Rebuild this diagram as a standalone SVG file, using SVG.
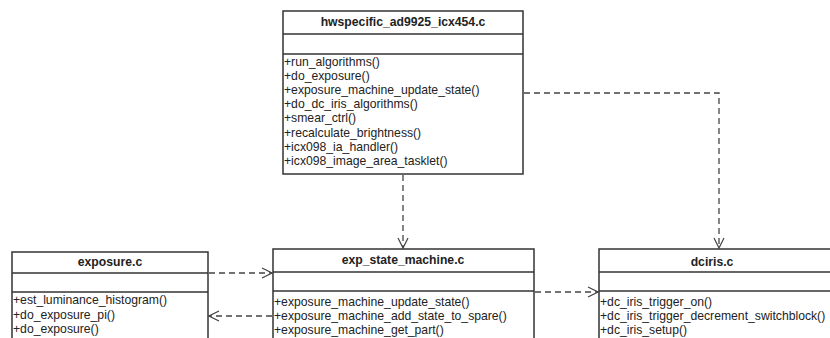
<svg xmlns="http://www.w3.org/2000/svg" width="830" height="338" viewBox="0 0 830 338">
<defs>
<style>
.box{fill:#fff;stroke:#333;stroke-width:1.5}
.sep{stroke:#333;stroke-width:1.5}
.t{font-family:"Liberation Sans",Arial,sans-serif;font-size:12.2px;fill:#222}
.h{font-family:"Liberation Sans",Arial,sans-serif;font-size:12.2px;font-weight:bold;fill:#222;text-anchor:middle}
.c{fill:none;stroke:#444;stroke-width:1.3;stroke-dasharray:6,4}
</style>
<marker id="ah" viewBox="0 0 12 12" refX="11" refY="6" markerWidth="12" markerHeight="12" markerUnits="userSpaceOnUse" orient="auto">
<path d="M1,1 L11,6 L1,11" fill="none" stroke="#444" stroke-width="1.2"/>
</marker>
</defs>
<rect width="830" height="338" fill="#fff"/>
<g id="connectors">
<path class="c" d="M403,175 V248" marker-end="url(#ah)"/>
<path class="c" d="M524,93 H719 V248" marker-end="url(#ah)"/>
<path class="c" d="M209,273 H272" marker-end="url(#ah)"/>
<path class="c" d="M272,316 H209" marker-end="url(#ah)"/>
<path class="c" d="M535,292 H598" marker-end="url(#ah)"/>
</g>
<g id="hwspecific">
<rect class="box" x="283" y="11" width="240" height="163"/>
<line class="sep" x1="283" y1="34" x2="523" y2="34"/>
<line class="sep" x1="283" y1="54" x2="523" y2="54"/>
<text class="h" x="403" y="26">hwspecific_ad9925_icx454.c</text>
<text class="t" x="284" y="66">+run_algorithms()</text>
<text class="t" x="284" y="80">+do_exposure()</text>
<text class="t" x="284" y="94">+exposure_machine_update_state()</text>
<text class="t" x="284" y="108">+do_dc_iris_algorithms()</text>
<text class="t" x="284" y="122">+smear_ctrl()</text>
<text class="t" x="284" y="137">+recalculate_brightness()</text>
<text class="t" x="284" y="151">+icx098_ia_handler()</text>
<text class="t" x="284" y="165">+icx098_image_area_tasklet()</text>
</g>
<g id="exposure">
<rect class="box" x="12" y="252" width="196" height="100"/>
<line class="sep" x1="12" y1="273" x2="208" y2="273"/>
<line class="sep" x1="12" y1="292" x2="208" y2="292"/>
<text class="h" x="110" y="266">exposure.c</text>
<text class="t" x="13" y="304">+est_luminance_histogram()</text>
<text class="t" x="13" y="319">+do_exposure_pi()</text>
<text class="t" x="13" y="333">+do_exposure()</text>
</g>
<g id="exp_state_machine">
<rect class="box" x="273" y="249" width="261" height="100"/>
<line class="sep" x1="273" y1="272" x2="534" y2="272"/>
<line class="sep" x1="273" y1="291" x2="534" y2="291"/>
<text class="h" x="403" y="264">exp_state_machine.c</text>
<text class="t" x="274" y="306">+exposure_machine_update_state()</text>
<text class="t" x="274" y="320">+exposure_machine_add_state_to_spare()</text>
<text class="t" x="274" y="334">+exposure_machine_get_part()</text>
</g>
<g id="dciris">
<rect class="box" x="599" y="249" width="240" height="100"/>
<line class="sep" x1="599" y1="272" x2="839" y2="272"/>
<line class="sep" x1="599" y1="291" x2="839" y2="291"/>
<text class="h" x="712" y="266">dciris.c</text>
<text class="t" x="600" y="306">+dc_iris_trigger_on()</text>
<text class="t" x="600" y="320">+dc_iris_trigger_decrement_switchblock()</text>
<text class="t" x="600" y="334">+dc_iris_setup()</text>
</g>
</svg>
